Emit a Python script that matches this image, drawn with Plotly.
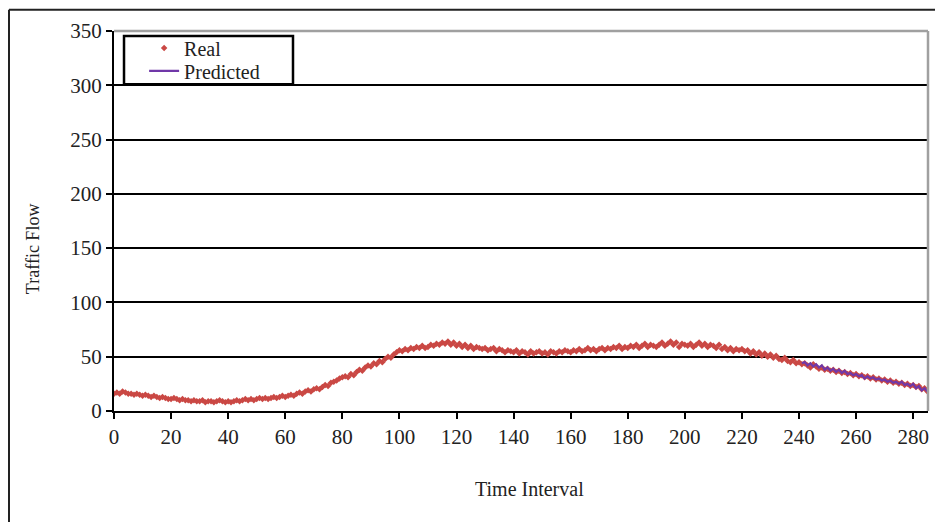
import plotly.graph_objects as go

real_values = [
    16, 17, 16, 18, 17, 16, 16, 15, 16, 15,
    14, 15, 14, 13, 14, 13, 12, 13, 12, 11,
    11, 12, 11, 10, 11, 10, 10, 9, 10, 9,
    9, 10, 8, 9, 9, 8, 9, 10, 9, 8,
    9, 8, 9, 10, 9, 10, 11, 10, 11, 10,
    11, 12, 11, 12, 11, 12, 13, 12, 13, 14,
    13, 14, 15, 14, 16, 17, 16, 18, 19, 18,
    20, 21, 20, 22, 24, 23, 26, 27, 28, 30,
    31, 32, 31, 34, 33, 36, 38, 37, 40, 42,
    41, 44, 43, 46, 45, 48, 50, 49, 52, 54,
    56, 55, 57, 56, 58, 57, 59, 58, 60, 58,
    59, 61, 60, 62, 61, 63, 62, 64, 61, 63,
    60, 62, 59, 61, 58, 60, 57, 59, 58, 57,
    58, 56, 57, 58, 55, 57, 56, 54, 56, 55,
    54, 56, 53, 55, 54, 52, 55, 53, 54, 55,
    53, 54, 52, 55, 54, 53, 55, 54, 56, 55,
    54, 56, 55, 57, 55, 56, 58, 56, 57, 55,
    57, 58, 56, 58, 57, 59, 58, 60, 57, 59,
    58, 60, 59, 61, 58, 60, 62, 59, 61, 60,
    59, 61, 63, 60, 62, 64, 61, 63, 59, 62,
    61, 60, 62, 59, 61, 63, 60, 62, 59, 61,
    60, 58, 61, 57, 59, 56, 58, 55, 57, 56,
    57, 55, 56, 53, 55, 52, 54, 51, 53, 50,
    52, 49, 51, 48, 47, 49, 46, 45, 47, 44,
    45, 43, 44, 42, 40, 43, 41, 39, 40, 38,
    39, 37, 38, 36, 37, 35, 36, 34, 35, 33,
    34, 32, 33, 31, 32, 30, 31, 29, 30, 28,
    29, 27, 28, 26, 27, 25, 26, 24, 25, 23,
    24, 22, 23, 20, 21, 18,
]
real_time = list(range(len(real_values)))

predicted_start = 241
predicted_values = [
    44, 45, 42, 44, 41, 43, 40, 42, 38, 40,
    37, 39, 36, 38, 35, 37, 34, 35, 33, 34,
    32, 33, 30, 32, 30, 31, 29, 30, 28, 29,
    27, 28, 26, 27, 25, 27, 24, 25, 23, 25,
    21, 23, 19, 21, 18,
]
predicted_time = list(range(predicted_start, predicted_start + len(predicted_values)))

x_ticks = list(range(0, 281, 20))
y_ticks = list(range(0, 351, 50))

FONT = "Liberation Serif"
TXT = "#222"

fig = go.Figure()
fig.add_trace(go.Scatter(
    x=real_time, y=real_values, mode="markers", name="Real", legend="legend",
    marker=dict(symbol="diamond", size=5, color="rgb(202,72,68)", line=dict(width=0)),
))
fig.add_trace(go.Scatter(
    x=predicted_time, y=predicted_values, mode="lines", name="Predicted", legend="legend2",
    line=dict(color="rgb(112,56,168)", width=2.2),
))

legend_style = dict(
    x=0.037, xanchor="left", yanchor="middle",
    borderwidth=0, bgcolor="rgba(0,0,0,0)",
    font=dict(family=FONT, size=20, color=TXT),
    itemwidth=30,
)

# page body has an 8px margin, so the figure is offset by 8px
fig.update_layout(
    width=935, height=514,
    margin=dict(l=106, r=15, t=23, b=111),
    paper_bgcolor="white", plot_bgcolor="white",
    font=dict(family=FONT, size=21, color=TXT),
    showlegend=True,
    legend=dict(y=0.955, **legend_style),
    legend2=dict(y=0.895, **legend_style),
    xaxis=dict(
        range=[0, 285.2], tickvals=x_ticks, showgrid=False, zeroline=False,
        showline=True, linecolor="black", linewidth=2,
        ticks="outside", ticklen=6, tickwidth=2, tickcolor="black",
        tickfont=dict(family=FONT, size=21, color=TXT),
    ),
    yaxis=dict(
        range=[0, 350], tickvals=y_ticks, showgrid=True, gridcolor="black", gridwidth=1.5,
        zeroline=False, showline=True, linecolor="black", linewidth=2,
        ticks="outside", ticklen=6, tickwidth=2, tickcolor="black",
        tickfont=dict(family=FONT, size=21, color=TXT),
    ),
    shapes=[
        dict(type="line", xref="paper", yref="paper", x0=0, x1=1, y0=1, y1=1,
             line=dict(color="rgb(160,160,160)", width=2.5), layer="above"),
        dict(type="line", xref="paper", yref="paper", x0=1, x1=1, y0=0, y1=1,
             line=dict(color="rgb(160,160,160)", width=2.5), layer="above"),
        dict(type="rect", xref="paper", yref="paper", x0=0.0123, x1=0.2199, y0=0.860, y1=0.987,
             line=dict(color="black", width=2.5), fillcolor="white", layer="above"),
        dict(type="line", xref="paper", yref="paper", x0=-0.129, x1=1.1, y0=1.056, y1=1.056,
             line=dict(color=TXT, width=2), layer="below"),
        dict(type="line", xref="paper", yref="paper", x0=-0.129, x1=-0.129, y0=-0.4, y1=1.056,
             line=dict(color=TXT, width=2), layer="below"),
    ],
    annotations=[
        dict(text="Traffic Flow", xref="paper", yref="paper", x=-0.0995, y=0.426,
             xanchor="center", yanchor="middle", textangle=-90, showarrow=False,
             font=dict(family=FONT, size=18, color=TXT)),
        dict(text="Time Interval", xref="paper", yref="paper", x=0.51, y=-0.205,
             xanchor="center", yanchor="middle", showarrow=False,
             font=dict(family=FONT, size=20, color=TXT)),
    ],
)

fig.write_html("out.html")
